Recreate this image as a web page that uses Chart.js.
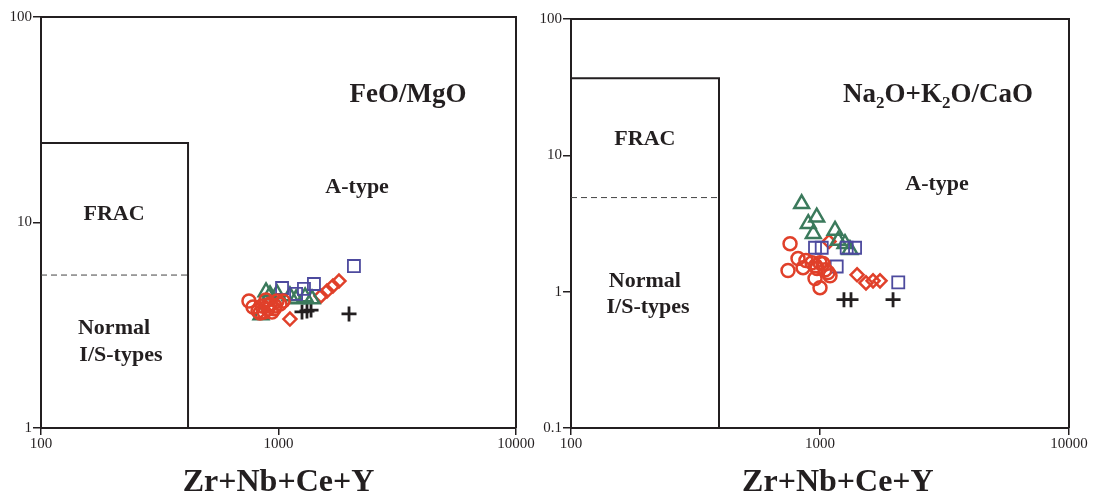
<!DOCTYPE html>
<html><head><meta charset="utf-8">
<script src="https://cdn.jsdelivr.net/npm/chart.js@4/dist/chart.umd.min.js"></script>
<style>
html,body{margin:0;padding:0;background:#fff;}
#wrap{position:relative;width:1094px;height:497px;overflow:hidden;}
canvas{position:absolute;top:0;}
</style></head><body>
<div id="wrap">
<canvas id="left" width="545" height="497" style="left:0px"></canvas>
<canvas id="right" width="564" height="497" style="left:530px"></canvas>
</div>
<script>
// ---------- tick values ----------
const xTicks = [100, 1000, 10000];
const yTicksFeO = [1, 10, 100];
const yTicksNa = [0.1, 1, 10, 100];

// ---------- field boundaries ----------
const feoFracX = 416, feoFracTop = 24.4, feoDashY = 5.55;
const naFracX = 393, naFracTop = 36.8, naDashY = 4.9;

// ---------- FeO/MgO panel data [Zr+Nb+Ce+Y, FeO/MgO] ----------
const feoCircles = [[751,4.15],[781,3.88],[820,3.71],[852,3.92],[869,3.67],[903,3.79],[921,4.01],[939,3.67],[967,3.92],[986,4.15],[1014,4.01],[1045,4.15],[886,4.20],[836,3.63],[900,3.95],[960,3.80]];
const feoTriangles = [[921,4.44],[986,4.49],[886,4.59],[1186,4.24],[1294,4.34],[1384,4.24],[844,3.55],[1117,4.39]];
const feoSquares = [[1035,4.80],[1186,4.49],[1280,4.75],[1410,5.02],[2078,6.14]];
const feoDiamonds = [[1117,3.39],[1510,4.39],[1600,4.64],[1695,4.91],[1797,5.19]];
const feoPlus = [[1256,3.67],[1318,3.71],[1371,3.75],[1981,3.59]];

// ---------- Na2O+K2O/CaO panel data ----------
const naCircles = [[758,2.25],[744,1.43],[816,1.75],[855,1.50],[929,1.63],[973,1.48],[1000,1.63],[955,1.25],[1000,1.07],[1077,1.38],[878,1.69],[1028,1.61],[1097,1.31],[960,1.55],[1050,1.45]];
const naTriangles = [[844,4.41],[970,3.52],[897,3.15],[940,2.66],[1149,2.81],[1184,2.37],[1260,2.25],[1319,2.03]];
const naSquares = [[955,2.10],[1016,2.10],[1167,1.53],[1280,2.10],[1383,2.10],[2062,1.17]];
const naDiamonds = [[1087,2.33],[1409,1.33],[1530,1.16],[1633,1.20],[1742,1.20]];
const naPlus = [[1248,0.874],[1332,0.874],[1965,0.874]];

const INK = '#231f20';
const RED = '#e0402a', GREEN = '#3b7a5c', BLUE = '#4d4a9e';

function pts(arr){ return arr.map(p => ({x:p[0], y:p[1]})); }

function markerSets(circ, tri, sq, dia, plus){
  const base = {showLine:false, backgroundColor:'rgba(255,255,255,0)'};
  return [
    Object.assign({}, base, {data:pts(circ), pointStyle:'circle', pointRadius:6.5, borderColor:RED, borderWidth:2.5, pointBorderWidth:2.5}),
    Object.assign({}, base, {data:pts(sq), pointStyle:'rect', pointRadius:8.5, borderColor:BLUE, borderWidth:1.8, pointBorderWidth:1.8}),
    Object.assign({}, base, {data:pts(tri), pointStyle:'triangle', pointRadius:8.5, borderColor:GREEN, borderWidth:2.5, pointBorderWidth:2.5}),
    Object.assign({}, base, {data:pts(dia), pointStyle:'rectRot', pointRadius:6.5, borderColor:RED, borderWidth:2.5, pointBorderWidth:2.5}),
    Object.assign({}, base, {data:pts(plus), pointStyle:'cross', pointRadius:7.5, borderColor:INK, borderWidth:2.8, pointBorderWidth:2.8})
  ];
}

function boundarySets(fx, top, dash, ymin){
  return [
    {data:[{x:100,y:top},{x:fx,y:top},{x:fx,y:ymin}], showLine:true, borderColor:INK, borderWidth:2, pointRadius:0, fill:false},
    {data:[{x:100,y:dash},{x:fx,y:dash}], showLine:true, borderColor:'#444', borderWidth:1, borderDash:[6,4], pointRadius:0, fill:false}
  ];
}

const annoPlugin = {
  id:'anno',
  afterDraw(chart){
    const o = chart.options.plugins.anno;
    const ctx = chart.ctx, a = chart.chartArea;
    const xs = chart.scales.x, ys = chart.scales.y;
    ctx.save();
    // frame top & right
    ctx.strokeStyle = INK; ctx.lineWidth = 2;
    ctx.beginPath();
    ctx.moveTo(a.left, a.top); ctx.lineTo(a.right, a.top); ctx.lineTo(a.right, a.bottom);
    ctx.stroke();
    ctx.fillStyle = INK;
    ctx.textAlign = 'center'; ctx.textBaseline = 'middle';
    for (const t of o.labels){
      const px = xs.getPixelForValue(t.x), py = ys.getPixelForValue(t.y);
      if (t.parts){
        const big = 'bold ' + t.size + 'px "Liberation Serif"';
        const small = 'bold ' + Math.round(t.size*0.62) + 'px "Liberation Serif"';
        let w = 0;
        for (const p of t.parts){ ctx.font = p[1] ? small : big; w += ctx.measureText(p[0]).width; }
        let cx = px - w/2;
        ctx.textAlign = 'left';
        for (const p of t.parts){
          ctx.font = p[1] ? small : big;
          ctx.fillText(p[0], cx, py + (p[1] ? t.size*0.3 : 0));
          cx += ctx.measureText(p[0]).width;
        }
        ctx.textAlign = 'center';
      } else {
        ctx.font = 'bold ' + t.size + 'px "Liberation Serif"';
        ctx.fillText(t.text, px, py);
      }
    }
    // axis title
    ctx.font = 'bold 32px "Liberation Serif"';
    ctx.fillText(o.title, xs.getPixelForValue(o.titleX), a.bottom + 55);
    ctx.restore();
  }
};

function makeChart(id, yMin, yMax, yTicks, datasets, pad, labels, titleX){
  const tickFont = {family:'"Liberation Serif"', size:15};
  return new Chart(document.getElementById(id), {
    type:'scatter',
    data:{datasets},
    options:{
      responsive:false, animation:false,
      layout:{padding:pad},
      plugins:{legend:{display:false}, tooltip:{enabled:false},
        anno:{labels, title:'Zr+Nb+Ce+Y', titleX}},
      scales:{
        x:{type:'logarithmic', min:100, max:10000,
          afterBuildTicks:s => { s.ticks = xTicks.map(v => ({value:v})); },
          afterFit:s => { s.height = 69; },
          ticks:{font:tickFont, color:INK, maxRotation:0, autoSkip:false, padding:0, callback:v => String(v)},
          grid:{drawOnChartArea:false, drawTicks:true, tickLength:7, color:INK, lineWidth:1.5},
          border:{display:true, color:INK, width:2}},
        y:{type:'logarithmic', min:yMin, max:yMax,
          afterBuildTicks:s => { s.ticks = yTicks.map(v => ({value:v})); },
          afterFit:s => { s.width = 41; },
          ticks:{font:tickFont, color:INK, autoSkip:false, padding:1, callback:v => String(v)},
          grid:{drawOnChartArea:false, drawTicks:true, tickLength:8, color:INK, lineWidth:1.5},
          border:{display:true, color:INK, width:2}}
      }
    },
    plugins:[annoPlugin]
  });
}

makeChart('left', 1, 100, yTicksFeO,
  boundarySets(feoFracX, feoFracTop, feoDashY, 1).concat(markerSets(feoCircles, feoTriangles, feoSquares, feoDiamonds, feoPlus)),
  {top:17, right:29, bottom:0, left:0},
  [
    {text:'FeO/MgO', x:3510, y:41.7, size:27},
    {text:'A-type', x:2143, y:14.9, size:22},
    {text:'FRAC', x:203, y:10.9, size:22},
    {text:'Normal', x:203, y:3.07, size:22},
    {text:'I/S-types', x:217, y:2.27, size:22}
  ], 1000);

makeChart('right', 0.1, 100, yTicksNa,
  boundarySets(naFracX, naFracTop, naDashY, 0.1).concat(markerSets(naCircles, naTriangles, naSquares, naDiamonds, naPlus)),
  {top:19, right:25, bottom:0, left:0},
  [
    {parts:[['Na',0],['2',1],['O+K',0],['2',1],['O/CaO',0]], x:2979, y:27.6, size:27},
    {text:'A-type', x:2952, y:6.12, size:22},
    {text:'FRAC', x:198, y:13.1, size:22},
    {text:'Normal', x:198, y:1.20, size:22},
    {text:'I/S-types', x:204, y:0.763, size:22}
  ], 1180);
</script>
</body></html>
